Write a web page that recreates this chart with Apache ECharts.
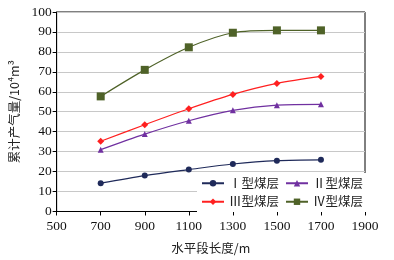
<!DOCTYPE html>
<html>
<head>
<meta charset="utf-8">
<script src="https://cdn.jsdelivr.net/npm/echarts@6/dist/echarts.min.js"></script>
<style>
  html, body { margin: 0; padding: 0; background: #fff; }
  #chart { width: 394px; height: 260px; }
</style>
</head>
<body>
<div id="chart"></div>
<script>
// 水平段长度 (m)
var lengths = [700, 900, 1100, 1300, 1500, 1700]
var seriesNames = ['Ⅰ型煤层', 'Ⅱ型煤层', 'Ⅲ型煤层', 'Ⅳ型煤层']
var type1 = [14.2, 18.0, 21.0, 23.8, 25.5, 25.9]
var type2 = [31.0, 38.8, 45.5, 50.7, 53.3, 53.7]
var type3 = [35.2, 43.5, 51.5, 58.7, 64.2, 67.7]
var type4 = [57.7, 71.0, 82.3, 89.6, 90.8, 90.8]

var serif = '"Liberation Serif", "DejaVu Serif", serif'
var cjk = '"Noto Sans CJK SC", serif'

function pairs (vals) {
  return lengths.map(function (x, i) { return [x, vals[i]] })
}

function makeSeries (name, vals, color, symbol, size) {
  return {
    name: name,
    type: 'line',
    smooth: 0.3,
    data: pairs(vals),
    symbol: symbol,
    symbolSize: size,
    lineStyle: { color: color, width: 1.2 },
    itemStyle: { color: color }
  }
}

var chart = echarts.init(document.getElementById('chart'))
var options = {
  backgroundColor: '#fff',
  animation: false,
  grid: {
    left: 54,
    right: 29,
    top: 12,
    bottom: 47,
    show: true,
    borderColor: '#000',
    borderWidth: 1
  },
  legend: {
    data: seriesNames,
    orient: 'horizontal',
    width: 165,
    left: 197,
    bottom: 48,
    itemWidth: 22,
    itemHeight: 8,
    itemGap: 6,
    backgroundColor: '#fff',
    padding: [4, 4],
    textStyle: { fontFamily: cjk, fontSize: 12.5, color: '#222' }
  },
  xAxis: {
    type: 'value',
    min: 500,
    max: 1900,
    interval: 200,
    name: '水平段长度/m',
    nameLocation: 'middle',
    nameGap: 31,
    nameTextStyle: { fontFamily: cjk, fontSize: 12.5, color: '#222' },
    axisLine: { lineStyle: { color: '#000' } },
    axisTick: { show: true, inside: false, length: 4, lineStyle: { color: '#000' } },
    splitLine: { show: false },
    axisLabel: { fontFamily: serif, fontSize: 13.5, color: '#111', margin: 8, formatter: function (v) { return String(v) } }
  },
  yAxis: {
    type: 'value',
    min: 0,
    max: 100,
    interval: 10,
    name: '累计产气量/10⁴m³',
    nameLocation: 'middle',
    nameGap: 36,
    nameTextStyle: { fontFamily: cjk, fontSize: 12.5, color: '#222' },
    axisLine: { show: true, lineStyle: { color: '#000' } },
    axisTick: { show: true, length: 4, lineStyle: { color: '#000' } },
    splitLine: { show: true, lineStyle: { color: '#c8c8c8', width: 1 } },
    axisLabel: { fontFamily: serif, fontSize: 13.5, color: '#111', margin: 5 }
  },
  series: [
    makeSeries(seriesNames[0], type1, '#1f2a5a', 'circle', 6),
    makeSeries(seriesNames[1], type2, '#7030a0', 'triangle', 6),
    makeSeries(seriesNames[2], type3, '#ff2020', 'diamond', 7),
    makeSeries(seriesNames[3], type4, '#4f6228', 'rect', 8)
  ]
}
chart.setOption(options, true)
</script>
</body>
</html>
